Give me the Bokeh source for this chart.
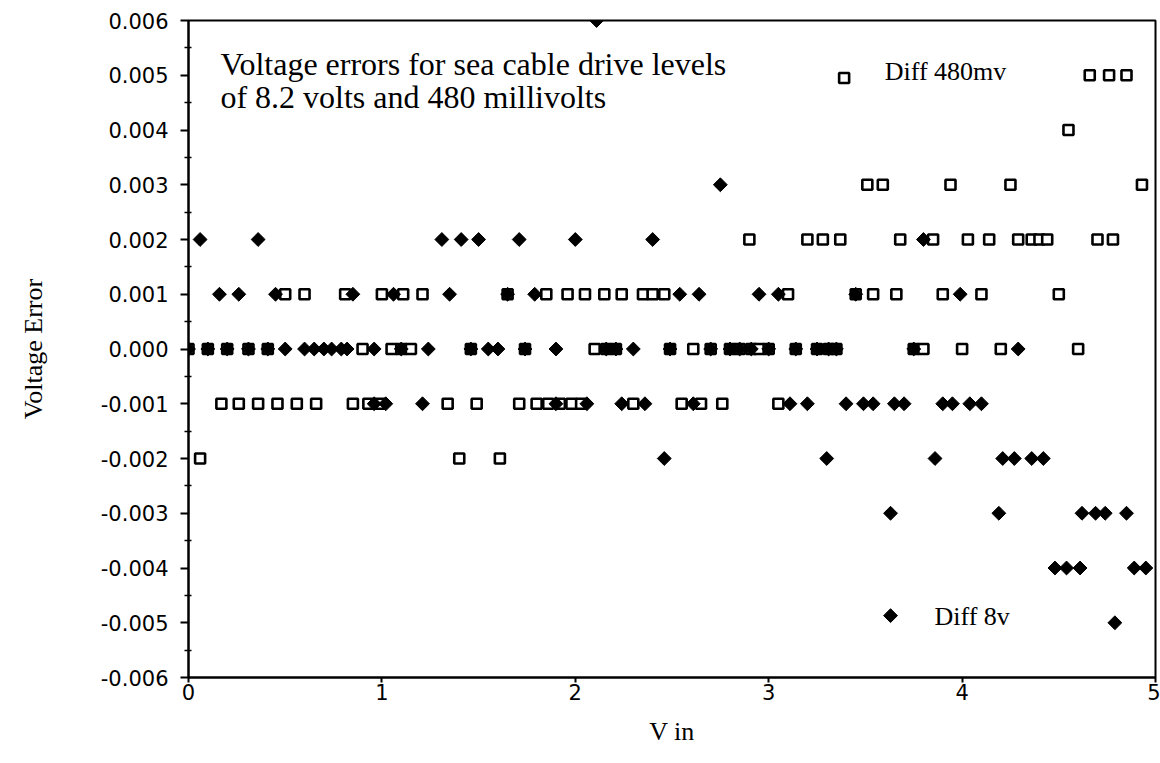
import math
from bokeh.plotting import figure
from bokeh.models import Label, Range1d, FixedTicker, PrintfTickFormatter
from bokeh.embed import file_html
from bokeh.resources import INLINE

# ---------------- data ----------------
# Diff 8v  (filled diamonds): V in values at each error level
d8_p006 = [2.11]
d8_p003 = [2.75]
d8_p002 = [0.06, 0.36, 1.31, 1.41, 1.50, 1.71, 2.00, 2.40, 3.80]
d8_p001 = [0.16, 0.26, 0.45, 0.85, 1.06, 1.35, 1.65, 1.79, 2.54, 2.64, 2.95, 3.05, 3.45, 3.99]
d8_zero = [0.00, 0.10, 0.20, 0.31, 0.41, 0.50, 0.60, 0.65, 0.70, 0.74, 0.79, 0.82, 0.96,
           1.10, 1.24, 1.46, 1.55, 1.60, 1.74, 1.90, 2.16, 2.21, 2.30, 2.49, 2.70, 2.80,
           2.85, 2.91, 3.00, 3.14, 3.25, 3.31, 3.35, 3.75, 4.29]
d8_m001 = [0.96, 1.02, 1.21, 1.90, 2.06, 2.24, 2.36, 2.61, 3.11, 3.20, 3.40, 3.49, 3.54,
           3.65, 3.70, 3.90, 3.95, 4.04, 4.10]
d8_m002 = [2.46, 3.30, 3.86, 4.21, 4.27, 4.36, 4.42]
d8_m003 = [3.63, 4.19, 4.62, 4.69, 4.74, 4.85]
d8_m004 = [4.48, 4.54, 4.61, 4.89, 4.95]
d8_m005 = [4.79]

# Diff 480mv (open squares)
s_p005 = [4.66, 4.76, 4.85]
s_p004 = [4.55]
s_p003 = [3.51, 3.59, 3.94, 4.25, 4.93]
s_p002 = [2.90, 3.20, 3.28, 3.37, 3.68, 3.85, 4.03, 4.14, 4.29, 4.36, 4.40, 4.44, 4.70, 4.78]
s_p001 = [0.50, 0.60, 0.81, 1.00, 1.11, 1.21, 1.65, 1.85, 1.96, 2.05, 2.15, 2.24, 2.35,
          2.40, 2.46, 3.10, 3.45, 3.54, 3.66, 3.90, 4.10, 4.50]
s_zero = [0.00, 0.10, 0.20, 0.31, 0.41, 0.90, 1.05, 1.10, 1.15, 1.46, 1.74, 2.10, 2.16,
          2.21, 2.49, 2.61, 2.70, 2.80, 2.85, 2.91, 2.95, 3.00, 3.14, 3.25, 3.31, 3.35,
          3.75, 3.80, 4.00, 4.20, 4.60]
s_m001 = [0.17, 0.26, 0.36, 0.46, 0.56, 0.66, 0.85, 0.93, 0.99, 1.34, 1.49, 1.71, 1.80,
          1.86, 1.92, 1.98, 2.03, 2.30, 2.55, 2.65, 2.76, 3.05]
s_m002 = [0.06, 1.40, 1.61]

y_ticks = [-0.006, -0.005, -0.004, -0.003, -0.002, -0.001, 0.0,
           0.001, 0.002, 0.003, 0.004, 0.005, 0.006]
x_ticks = [0, 1, 2, 3, 4, 5]


def flatten(groups):
    xs, ys = [], []
    for lvl, vals in groups:
        xs += vals
        ys += [lvl] * len(vals)
    return xs, ys


d8_x, d8_y = flatten([(0.006, d8_p006), (0.003, d8_p003), (0.002, d8_p002), (0.001, d8_p001),
                      (0.0, d8_zero), (-0.001, d8_m001), (-0.002, d8_m002), (-0.003, d8_m003),
                      (-0.004, d8_m004), (-0.005, d8_m005)])
s_x, s_y = flatten([(0.005, s_p005), (0.004, s_p004), (0.003, s_p003), (0.002, s_p002),
                    (0.001, s_p001), (0.0, s_zero), (-0.001, s_m001), (-0.002, s_m002)])

# ---------------- figure ----------------
p = figure(width=1160, height=763, output_backend="svg", toolbar_location=None,
           x_range=Range1d(0, 5), y_range=Range1d(-0.006, 0.006),
           min_border_left=188, min_border_right=5, min_border_top=20, min_border_bottom=86)
p.background_fill_color = "white"
p.border_fill_color = "white"
p.xgrid.visible = False
p.ygrid.visible = False
p.outline_line_color = "black"
p.outline_line_width = 2

# squares (open), then diamonds on top
p.scatter(s_x, s_y, marker="square", size=10, line_color="black", line_width=2.6,
          fill_color="white")
p.scatter(d8_x, d8_y, marker="square", angle=math.pi / 4, size=9.8, line_color="black",
          line_width=1, fill_color="black")

# legend markers and texts
p.scatter([3.39], [0.00495], marker="square", size=10, line_color="black", line_width=2.6,
          fill_color="white")
p.scatter([3.63], [-0.00487], marker="square", angle=math.pi / 4, size=9.8, line_color="black",
          line_width=1, fill_color="black")

serif = "Liberation Serif"
p.add_layout(Label(x=3.60, y=0.00506, text="Diff 480mv", text_font=serif,
                   text_font_size="26px", text_baseline="alphabetic", text_color="black"))
p.add_layout(Label(x=3.857, y=-0.00488, text="Diff 8v", text_font=serif,
                   text_font_size="26px", text_baseline="alphabetic", text_color="black"))
p.add_layout(Label(x=0.165, y=0.00520, text="Voltage errors for sea cable drive levels",
                   text_font=serif, text_font_size="32px", text_baseline="alphabetic",
                   text_color="black"))
p.add_layout(Label(x=0.165, y=0.00461, text="of 8.2 volts and 480 millivolts",
                   text_font=serif, text_font_size="32px", text_baseline="alphabetic",
                   text_color="black"))

# axes
p.yaxis.ticker = FixedTicker(ticks=y_ticks,
                             minor_ticks=[-0.0055, -0.0045, -0.0035, -0.0025, -0.0015, -0.0005,
                                          0.0005, 0.0015, 0.0025, 0.0035, 0.0045, 0.0055])
p.yaxis.formatter = PrintfTickFormatter(format="%.3f")
p.xaxis.ticker = FixedTicker(ticks=x_ticks)
p.xaxis.formatter = PrintfTickFormatter(format="%d")

for ax in (p.xaxis[0], p.yaxis[0]):
    ax.axis_line_width = 2
    ax.axis_line_color = "black"
    ax.major_tick_line_color = "black"
    ax.major_tick_line_width = 2
    ax.minor_tick_line_color = "black"
    ax.minor_tick_line_width = 1.5
    ax.major_label_text_font = "DejaVu Sans"
    ax.major_label_text_font_size = "21px"
    ax.major_label_text_color = "black"
    ax.axis_label_text_font = serif
    ax.axis_label_text_font_size = "26px"
    ax.axis_label_text_font_style = "normal"
    ax.axis_label_text_color = "black"

p.yaxis.axis_label = "Voltage Error"
p.yaxis.major_tick_in = 0
p.yaxis.major_tick_out = 8
p.yaxis.minor_tick_in = 3
p.yaxis.minor_tick_out = 4
p.yaxis.major_label_standoff = 12
p.yaxis.axis_label_standoff = 50

p.xaxis.axis_label = "V in"
p.xaxis.major_tick_in = 0
p.xaxis.major_tick_out = 5
p.xaxis.minor_tick_in = 0
p.xaxis.minor_tick_out = 0
p.xaxis.major_label_standoff = 1
p.xaxis.axis_label_standoff = 14

open("out.html", "w").write(file_html(p, INLINE))
